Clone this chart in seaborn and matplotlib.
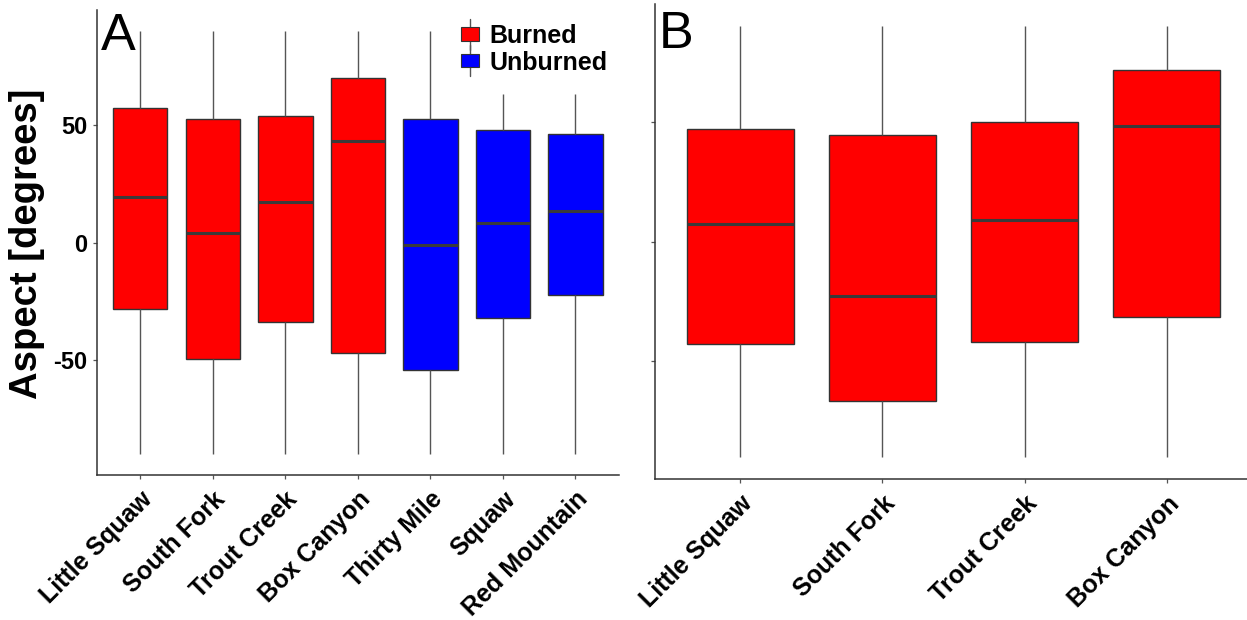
import numpy as np
import pandas as pd
import matplotlib
matplotlib.use("Agg")
import matplotlib.pyplot as plt
import seaborn as sns
from matplotlib.lines import Line2D
from matplotlib.patches import Patch, Rectangle
from matplotlib.legend_handler import HandlerBase

# Panel A: all seven fire sites, box summaries of slope aspect (degrees)
sites_a = ["Little Squaw", "South Fork", "Trout Creek", "Box Canyon",
           "Thirty Mile", "Squaw", "Red Mountain"]
status_a = ["Burned", "Burned", "Burned", "Burned",
            "Unburned", "Unburned", "Unburned"]
low_a = [-90, -90, -90, -90, -90, -90, -90]
q1_a = [-28.5, -49.7, -34.0, -47.3, -54.5, -32.3, -22.3]
med_a = [19.5, 4.2, 17.4, 43.4, -1.0, 8.4, 13.6]
q3_a = [57.5, 52.5, 54.0, 70.0, 52.5, 48.0, 46.3]
high_a = [90, 90, 90, 90, 90, 63.3, 63.3]

# Panel B: burned sites only
sites_b = ["Little Squaw", "South Fork", "Trout Creek", "Box Canyon"]
status_b = ["Burned", "Burned", "Burned", "Burned"]
low_b = [-90, -90, -90, -90]
q1_b = [-42.7, -66.6, -41.7, -31.4]
med_b = [7.2, -22.9, 9.0, 48.2]
q3_b = [47.1, 44.4, 50.0, 71.5]
high_b = [90, 90, 90, 90]

yticks = [-50, 0, 50]
ytick_labels = ["-50", "0", "50"]
fire_levels = ["Burned", "Unburned"]
fire_colors = {"Burned": "#FF0000", "Unburned": "#0000FF"}


def long_table(sites, status, *stats):
    # five ordered values per site reproduce whisker ends, quartiles and median exactly
    rows = []
    for i, site in enumerate(sites):
        for s in stats:
            rows.append({"site": site, "fire": status[i], "aspect": s[i]})
    return pd.DataFrame(rows)


class BoxKey(HandlerBase):
    """Legend key drawn as a small filled box with a whisker running through it."""

    def create_artists(self, legend, orig_handle, xdescent, ydescent,
                       width, height, fontsize, trans):
        cx = width / 2 - xdescent
        cy = height / 2 - ydescent
        reach = height * 1.15
        whisker = Line2D([cx, cx], [cy - reach, cy + reach], color="#555555",
                         linewidth=1.0, transform=trans)
        box = Rectangle((-xdescent, -ydescent), width, height,
                        facecolor=orig_handle.get_facecolor(),
                        edgecolor="#333333", linewidth=0.8, transform=trans)
        return [whisker, box]


df_a = long_table(sites_a, status_a, low_a, q1_a, med_a, q3_a, high_a)
df_b = long_table(sites_b, status_b, low_b, q1_b, med_b, q3_b, high_b)

sns.set_style("ticks")
plt.rcParams["font.family"] = ["Liberation Sans", "DejaVu Sans"]
plt.rcParams["text.color"] = "black"

W, H = 1247, 620
fig = plt.figure(figsize=(W / 100, H / 100), dpi=100)


def px_axes(left, top, right, bottom):
    return fig.add_axes([left / W, 1 - bottom / H, (right - left) / W, (bottom - top) / H])


ax_a = px_axes(96.7, 10.3, 619, 474.7)
ax_b = px_axes(655, 4, 1252, 479)

box_kw = dict(x="site", y="aspect", hue="fire", palette=fire_colors,
              dodge=False, width=0.75, whis=(0, 100), saturation=1,
              linecolor="#333333", linewidth=1.0, showcaps=False,
              medianprops={"linewidth": 2.2, "color": "#3a3a3a"},
              whiskerprops={"color": "#555555", "linewidth": 1.0},
              legend=False)

sns.boxplot(data=df_a, order=sites_a, hue_order=fire_levels, ax=ax_a, **box_kw)
sns.boxplot(data=df_b, order=sites_b, hue_order=["Burned"], ax=ax_b, **box_kw)

for ax, sites in ((ax_a, sites_a), (ax_b, sites_b)):
    ax.set_xlim(-0.6, len(sites) - 0.4)
    ax.set_ylim(-99, 99)
    ax.set_xlabel("")
    ax.set_ylabel("")
    for side in ("top", "right"):
        ax.spines[side].set_visible(False)
    for side in ("left", "bottom"):
        ax.spines[side].set_color("#333333")
        ax.spines[side].set_linewidth(1.1)
    ax.set_xticks(range(len(sites)))
    ax.set_xticklabels(sites, rotation=45, ha="right", va="top",
                       rotation_mode="anchor", fontsize=18, fontweight="bold",
                       color="black")
    ax.set_yticks(yticks)
    ax.tick_params(axis="both", length=3, width=0.9, color="#555555")
    ax.tick_params(axis="x", pad=6)
    ax.tick_params(axis="y", pad=3.5)

ax_a.set_yticklabels(ytick_labels, fontsize=17, fontweight="bold", color="black")
ax_b.set_yticklabels([])

fig.text(27.5 / W, 1 - 244 / H, "Aspect [degrees]", rotation=90,
         ha="center", va="center", fontsize=27.5, fontweight="bold")
fig.text(101 / W, 1 - 50 / H, "A", ha="left", va="baseline", fontsize=37.5)
fig.text(659 / W, 1 - 48 / H, "B", ha="left", va="baseline", fontsize=37.5)

handles = [Patch(facecolor=fire_colors[lvl]) for lvl in fire_levels]
ax_a.legend(handles, fire_levels, handler_map={Patch: BoxKey()},
            loc="upper left", bbox_to_anchor=(461 / W, 1 - 24 / H),
            bbox_transform=fig.transFigure, frameon=False,
            prop={"size": 18, "weight": "bold"}, handlelength=0.73,
            handleheight=0.45, handletextpad=0.4, labelspacing=0.1,
            borderpad=0, borderaxespad=0)

fig.savefig("out.png", dpi=100, facecolor="white")
